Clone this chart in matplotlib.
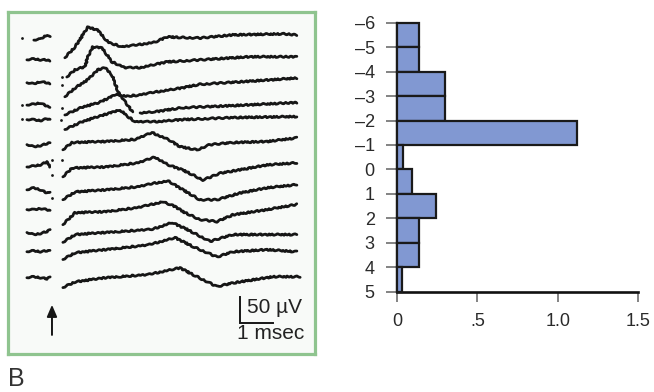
import numpy as np
import matplotlib
matplotlib.use('Agg')
import matplotlib.pyplot as plt

plt.rcParams['font.family'] = ['Liberation Sans', 'DejaVu Sans']

nan = np.nan

# ---------------- Left panel: evoked responses (time in msec, amplitude in µV) ----------------
trace_offsets_uV = [0, -42, -86, -129, -157, -205, -248, -292, -330, -374, -411, -461]

# pre-stimulus segments (relative to each trace's baseline)
pre_t = [-0.76, -0.55, -0.35, -0.15, -0.06]
pre_v = [
    [nan, -4, -2, 6, 2],
    [0, 2, 0, 0, -2],
    [0, -2, 2, 0, -2],
    [0, 2, 4, -2, -4],
    [0, 0, -2, 2, 0],
    [0, -4, -2, 2, 4],
    [0, 2, 4, 10, 0],
    [0, 4, 0, -6, -4],
    [0, 0, 2, 0, -2],
    [0, -4, -2, 2, 6],
    [0, 2, 0, 2, 2],
    [0, 2, 0, -2, 2],
]

# post-stimulus responses (relative to each trace's baseline)
post_t = [
    [0.39, 0.70, 1.09, 1.39, 1.70, 2.12, 2.61, 3.12, 3.48, 4.48, 5.48, 7.00, 7.42],
    [0.45, 0.70, 1.00, 1.09, 1.24, 1.52, 1.82, 2.21, 2.67, 3.48, 4.48, 6.00, 7.42],
    [0.39, 0.70, 1.09, 1.39, 1.61, 1.82, 2.00, 2.27, 2.45, nan, 2.67, 3.12, 3.94, 5.48, 7.42],
    [0.39, 0.91, 1.39, 1.70, 1.94, 2.21, 2.61, 3.12, 3.94, 4.48, 6.00, 7.42],
    [0.39, 0.91, 1.61, 2.06, 2.30, 2.52, 3.12, 3.94, 5.48, 7.42],
    [0.33, 0.61, 1.61, 2.52, 3.03, 3.52, 3.88, 4.39, 4.79, 5.48, 6.52, 7.42],
    [0.33, 0.61, 1.61, 2.61, 3.12, 3.52, 3.97, 4.58, 5.09, 6.00, 6.52, 7.42],
    [0.33, 0.70, 1.61, 2.61, 3.12, 3.52, 3.97, 4.48, 5.00, 5.70, 6.52, 7.42],
    [0.33, 0.70, 1.61, 2.61, 3.36, 3.73, 3.97, 4.48, 5.00, 5.48, 6.52, 7.42],
    [0.33, 0.70, 1.61, 3.03, 3.64, 4.09, 4.79, 5.48, 6.52, 7.42],
    [0.33, 0.70, 1.61, 2.91, 3.73, 4.27, 5.00, 5.48, 6.52, 7.42],
    [0.33, 0.70, 1.61, 2.91, 3.88, 4.27, 5.00, 5.48, 6.70, 7.52],
]
post_v = [
    [-38, -17, 21, 15, -8, -17, -13, -8, 2, 0, 6, 8, 6],
    [-33, -19, -13, 6, 25, 23, -4, -15, -15, -4, 0, 6, 6],
    [-27, -10, 6, 25, 29, 15, -17, -42, -56, nan, -58, -56, -48, -44, -38],
    [-19, -4, 4, 13, 21, 17, 19, 25, 33, 40, 46, 52],
    [-19, -4, 10, 19, 6, -4, -4, 0, 4, 6],
    [-10, 4, 6, 10, 23, 10, -4, -10, 0, 4, 6, 13],
    [-19, -2, 0, 8, 19, 4, -6, -25, -12, -2, 4, 8],
    [-19, -4, 0, 6, 13, 17, 0, -19, -19, -6, 4, 10],
    [-29, -6, -4, 4, 15, 6, -4, -19, -23, -10, 0, 10],
    [-19, -4, 0, 6, 19, 6, -17, -4, -4, -4],
    [-15, -2, 4, 13, 27, 10, -10, 0, 4, 0],
    [-19, -8, 0, 6, 19, 6, -17, -10, 2, 2],
]

# stimulus artifact dots (absolute positions, msec / µV)
dot_t = [-0.91, -0.91, -0.91, 0.30, 0.30, 0.30, 0.27, 0.30, 0.00, 0.00, 0.00]
dot_v = [0, -129, -156, -75, -90, -135, -158, -235, -235, -263, -308]

scale_t, scale_v = 1.0, 50.0          # scale bar: 1 msec, 50 µV
scale_origin = (5.70, -548)
stim_t = 0.0
stim_arrow_v = (-571, -513)

# ---------------- Right panel: histogram ----------------
bin_starts = [-6, -5, -4, -3, -2, -1, 0, 1, 2, 3, 4]
bin_values = [0.14, 0.14, 0.30, 0.30, 1.12, 0.035, 0.095, 0.24, 0.14, 0.14, 0.03]
y_ticks = [-6, -5, -4, -3, -2, -1, 0, 1, 2, 3, 4, 5]
y_ticklabels = ['–6', '–5', '–4', '–3', '–2', '–1', '0', '1', '2', '3', '4', '5']
x_ticks = [0, 0.5, 1.0, 1.5]
x_ticklabels = ['0', '.5', '1.0', '1.5']

W, H = 654, 392
fig = plt.figure(figsize=(W / 100, H / 100), dpi=100)
fig.patch.set_facecolor('white')

# ---- left panel ----
axL = fig.add_axes([7.5 / W, 1 - 353.5 / H, 307 / W, 342 / H])
axL.set_facecolor('#f8faf8')
axL.set_xlim(-1.348, 7.955)
axL.set_ylim(-606.7, 51.0)
axL.set_xticks([])
axL.set_yticks([])
for s in axL.spines.values():
    s.set_color('#8fc48f')
    s.set_linewidth(2.3)

tc = '#161616'
for off, pv in zip(trace_offsets_uV, pre_v):
    ln, = axL.plot(pre_t, np.array(pv, float) + off, color=tc, lw=2.0,
                   solid_capstyle='round', solid_joinstyle='round')
    ln.set_sketch_params(scale=0.6, length=6, randomness=3)
for off, t, pv in zip(trace_offsets_uV, post_t, post_v):
    ln, = axL.plot(t, np.array(pv, float) + off, color=tc, lw=2.0,
                   solid_capstyle='round', solid_joinstyle='round')
    ln.set_sketch_params(scale=0.7, length=6, randomness=3)
axL.scatter(dot_t, dot_v, s=4, color=tc, linewidths=0)

# scale bar
x0, y0 = scale_origin
axL.plot([x0, x0, x0 + scale_t], [y0 + scale_v, y0, y0], color=tc, lw=1.4,
         solid_joinstyle='miter')
axL.text(5.91, -519, '50 µV', fontsize=15, color='#222222', ha='left', va='center')
axL.text(5.61, -569, '1 msec', fontsize=15, color='#222222', ha='left', va='center')

# stimulus arrow
axL.annotate('', xy=(stim_t, stim_arrow_v[1]), xytext=(stim_t, stim_arrow_v[0]),
             arrowprops=dict(arrowstyle='-|>,head_length=0.7,head_width=0.3',
                             color=tc, lw=1.4, shrinkA=0, shrinkB=0))

# ---- right panel ----
axR = fig.add_axes([397 / W, 1 - 291.7 / H, 241 / W, 269 / H])
axR.barh(bin_starts, bin_values, height=1, align='edge', color='#8198d2',
         edgecolor='#1a1a1a', linewidth=1.6, clip_on=False, zorder=3)
axR.set_xlim(0, 1.5)
axR.set_ylim(5, -6)
axR.set_yticks(y_ticks)
axR.set_yticklabels(y_ticklabels)
axR.set_xticks(x_ticks)
axR.set_xticklabels(x_ticklabels)
for side in ('top', 'right'):
    axR.spines[side].set_visible(False)
axR.spines['bottom'].set_linewidth(1.9)
axR.spines['bottom'].set_color('#111111')
axR.spines['left'].set_linewidth(1.6)
axR.spines['left'].set_color('#111111')
axR.tick_params(axis='y', length=8, width=1.2, color='#6e6e6e', pad=8,
                labelsize=13, labelcolor='#2a2a2a')
axR.tick_params(axis='x', length=7.5, width=1.2, color='#6e6e6e', pad=8,
                labelsize=13, labelcolor='#2a2a2a')
axR.set_facecolor('none')

fig.text(8 / W, 1 - 386 / H, 'B', fontsize=18, color='#333333', ha='left',
         va='baseline')

fig.savefig('out.png', dpi=100, facecolor='white')
